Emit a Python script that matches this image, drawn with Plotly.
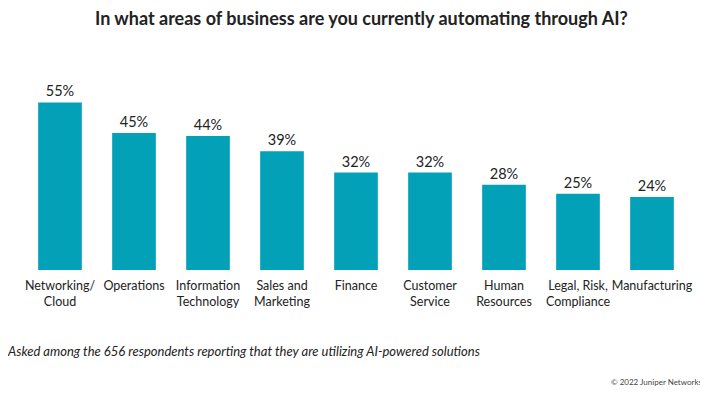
import plotly.graph_objects as go

categories = ["Networking/<br>Cloud", "Operations", "Information<br>Technology", "Sales and<br>Marketing",
              "Finance", "Customer<br>Service", "Human<br>Resources", "Legal, Risk,<br>Compliance", "Manufacturing"]
values = [55, 45, 44, 39, 32, 32, 28, 25, 24]
value_labels = [f"{v}%" for v in values]

# page body has an 8px margin, so draw the figure 8px smaller and shift coordinates
OFF = 8
W, H = 708 - OFF, 393 - OFF
plot_left, plot_right = 23 - OFF, 689 - OFF
plot_top, plot_bottom = 72 - OFF, 270 - OFF

fig = go.Figure(go.Bar(
    x=categories, y=values, text=value_labels, textposition="outside",
    textfont=dict(family="Lato", size=14.5, color="#222222"),
    marker=dict(color="#02A1B7", line=dict(width=0)),
    cliponaxis=False,
))

fig.update_layout(
    width=W, height=H,
    margin=dict(l=plot_left, r=W - plot_right, t=plot_top, b=H - plot_bottom, pad=0),
    paper_bgcolor="white", plot_bgcolor="white",
    bargap=0.41,
    showlegend=False,
    font=dict(family="Lato", color="#222222"),
    xaxis=dict(showgrid=False, showline=False, zeroline=False, ticks="", ticklabelstandoff=6,
               tickfont=dict(family="Lato", size=12.5, color="#222222"), tickangle=0, automargin=False),
    yaxis=dict(range=[0, 65], visible=False, automargin=False),
)

ph = plot_bottom - plot_top
pw = plot_right - plot_left
def px_to_paper(xp, yp):
    return (xp - OFF - plot_left) / pw, (plot_bottom - (yp - OFF)) / ph

tx, ty = px_to_paper(361, 18)
fig.add_annotation(text="<b>In what areas of business are you currently automating through AI?</b>",
                   x=tx, y=ty, xref="paper", yref="paper", xanchor="center", yanchor="middle",
                   showarrow=False, font=dict(family="Lato", size=18, color="#222222"))
fx, fy = px_to_paper(5, 351)
fig.add_annotation(text="<i>Asked among the 656 respondents reporting that they are utilizing AI-powered solutions</i>",
                   x=fx, y=fy, xref="paper", yref="paper", xanchor="left", yanchor="middle",
                   showarrow=False, font=dict(family="Lato", size=13, color="#222222"))
cx, cy = px_to_paper(704, 382)
fig.add_annotation(text="© 2022 Juniper Networks",
                   x=cx, y=cy, xref="paper", yref="paper", xanchor="right", yanchor="middle",
                   showarrow=False, font=dict(family="Lato", size=8, color="#444444"))

fig.write_html("out.html")
